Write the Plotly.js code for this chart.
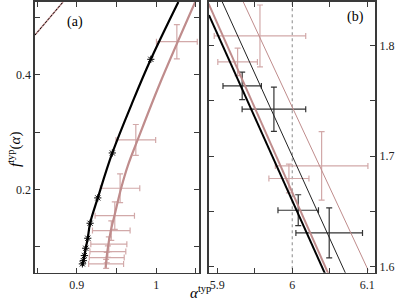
<!DOCTYPE html>
<html><head><meta charset="utf-8">
<script src="https://cdn.plot.ly/plotly-3.0.1.min.js"></script>
<style>html,body{margin:0;padding:0;background:#fff}</style>
</head><body>
<div id="chart" style="width:395px;height:303px"></div>
<script>
// Panel (a): black curve and stars
var curveBlackX = [0.9073, 0.9083, 0.9096, 0.9113, 0.9139, 0.9168, 0.9265, 0.9448, 0.9714, 0.9933, 1.028];
var curveBlackY = [0.0661, 0.0753, 0.0841, 0.0970, 0.1145, 0.1407, 0.1850, 0.2636, 0.3563, 0.4274, 0.5276];
var starsX = [0.9071, 0.9083, 0.9096, 0.9113, 0.9139, 0.9168, 0.9265, 0.9448, 0.9933];
var starsY = [0.0696, 0.0753, 0.0841, 0.0970, 0.1145, 0.1407, 0.1850, 0.2636, 0.4274];
// Panel (a): pink curve and points with error bars
var curvePinkX = [0.9363, 0.9388, 0.9426, 0.9477, 0.9559, 0.9647, 0.9767, 1.0050, 1.0492];
var curvePinkY = [0.0626, 0.0940, 0.1255, 0.1552, 0.2019, 0.2427, 0.2864, 0.3860, 0.5276];
var pinkX = [0.9370, 0.9378, 0.9392, 0.9404, 0.9435, 0.9479, 0.9546, 0.9744, 1.0261];
var pinkY = [0.0696, 0.0806, 0.0911, 0.1040, 0.1278, 0.1540, 0.2019, 0.2864, 0.4582];
var pinkXerr = [0.022, 0.022, 0.0226, 0.0227, 0.0237, 0.0248, 0.0248, 0.0250, 0.0257];
var pinkYerr = [0.008, 0.009, 0.010, 0.013, 0.017, 0.024, 0.025, 0.027, 0.030];
var dashX = [0.8474, 0.8827];
var dashY = [0.4699, 0.5276];
// Panel (b): straight lines
var thickBlackX = [5.889, 6.0436], thickBlackY = [1.8276, 1.5939];
var thickPinkX = [5.8885, 6.048], thickPinkY = [1.8380, 1.5939];
var thinBlackX = [5.9067, 6.0712], thinBlackY = [1.8396, 1.5939];
var thinPinkX = [5.9347, 6.1013], thinPinkY = [1.8396, 1.5968];
// Panel (b): points with error bars
var bBlackX = [5.9333, 5.9756, 6.008, 6.0493];
var bBlackY = [1.7636, 1.7425, 1.6511, 1.6306];
var bBlackXerr = [0.0256, 0.0424, 0.027, 0.0444];
var bBlackYerr = [0.0125, 0.020, 0.014, 0.0226];
var bPinkX = [5.957, 5.9272, 6.0392, 5.9956];
var bPinkY = [1.8088, 1.7853, 1.6912, 1.6798];
var bPinkXerr = [0.061, 0.0264, 0.0617, 0.0267];
var bPinkYerr = [0.028, 0.0124, 0.031, 0.013];

var PINK = '#bf8c8c', PINKERR = '#d2a9a9', FR = '#3a3a3a';
var F = 'Liberation Serif, serif';

var traces = [
  {x: dashX, y: dashY, mode: 'lines', line: {color: PINK, width: 1.5}, xaxis: 'x', yaxis: 'y', showlegend: false},
  {x: dashX, y: dashY, mode: 'lines', line: {color: '#000', width: 1, dash: '2px,2px'}, xaxis: 'x', yaxis: 'y', showlegend: false},
  {x: pinkX, y: pinkY, mode: 'markers', marker: {size: 1, color: 'rgba(0,0,0,0)'},
   error_x: {type: 'data', array: pinkXerr, color: PINKERR, thickness: 1.2, width: 3},
   error_y: {type: 'data', array: pinkYerr, color: PINKERR, thickness: 1.2, width: 3},
   xaxis: 'x', yaxis: 'y', showlegend: false},
  {x: curvePinkX, y: curvePinkY, mode: 'lines', line: {color: PINK, width: 2.2, shape: 'spline', smoothing: 1}, xaxis: 'x', yaxis: 'y', showlegend: false},
  {x: curveBlackX, y: curveBlackY, mode: 'lines', line: {color: '#000', width: 2.2, shape: 'spline'}, xaxis: 'x', yaxis: 'y', showlegend: false},
  {x: starsX, y: starsY, mode: 'markers', marker: {symbol: 'asterisk-open', size: 6, color: '#000', line: {width: 1, color: '#000'}}, xaxis: 'x', yaxis: 'y', showlegend: false},
  // panel b
  {x: [6, 6], y: [1.5, 1.9], mode: 'lines', line: {color: '#888', width: 1, dash: 'dot'}, xaxis: 'x2', yaxis: 'y2', showlegend: false},
  {x: bPinkX, y: bPinkY, mode: 'markers', marker: {size: 1, color: 'rgba(0,0,0,0)'},
   error_x: {type: 'data', array: bPinkXerr, color: PINKERR, thickness: 1.2, width: 3},
   error_y: {type: 'data', array: bPinkYerr, color: PINKERR, thickness: 1.2, width: 3},
   xaxis: 'x2', yaxis: 'y2', showlegend: false},
  {x: bBlackX, y: bBlackY, mode: 'markers', marker: {size: 1, color: 'rgba(0,0,0,0)'},
   error_x: {type: 'data', array: bBlackXerr, color: '#333', thickness: 1.2, width: 3},
   error_y: {type: 'data', array: bBlackYerr, color: '#333', thickness: 1.2, width: 3},
   xaxis: 'x2', yaxis: 'y2', showlegend: false},
  {x: thinPinkX, y: thinPinkY, mode: 'lines', line: {color: PINK, width: 1}, xaxis: 'x2', yaxis: 'y2', showlegend: false},
  {x: thinBlackX, y: thinBlackY, mode: 'lines', line: {color: '#222', width: 1}, xaxis: 'x2', yaxis: 'y2', showlegend: false},
  {x: thickPinkX, y: thickPinkY, mode: 'lines', line: {color: PINK, width: 2}, xaxis: 'x2', yaxis: 'y2', showlegend: false},
  {x: thickBlackX, y: thickBlackY, mode: 'lines', line: {color: '#000', width: 2}, xaxis: 'x2', yaxis: 'y2', showlegend: false}
];

function ax(o) {
  return Object.assign({showgrid: false, zeroline: false, showline: true, linecolor: FR, linewidth: 1.5,
    mirror: 'ticks', ticks: 'inside', ticklen: 5, tickwidth: 1, tickcolor: FR, tickmode: 'linear',
    tickfont: {family: F, size: 12, color: '#222'}, fixedrange: true}, o);
}
function mn(d) { return {dtick: d, ticks: 'inside', ticklen: 5, tickwidth: 1, tickcolor: FR, showgrid: false}; }

var layout = {
  width: 395, height: 303,
  margin: {l: 0, r: 0, t: 0, b: 0, pad: 0},
  font: {family: F},
  paper_bgcolor: '#fff', plot_bgcolor: '#fff',
  showlegend: false,
  xaxis: ax({domain: [0.0886, 0.5038], range: [0.8474, 1.054], tick0: 0.9, dtick: 0.1, minor: mn(0.05), anchor: 'y'}),
  yaxis: ax({domain: [0.1, 0.9934], range: [0.0542, 0.5276], tick0: 0, dtick: 0.2, minor: mn(0.1), anchor: 'x'}),
  xaxis2: ax({domain: [0.529, 0.9506], range: [5.889, 6.111], tick0: 5.9, dtick: 0.1, minor: mn(0.05), anchor: 'y2'}),
  yaxis2: ax({domain: [0.1, 0.9934], range: [1.5946, 1.8395], tick0: 1.6, dtick: 0.1, minor: mn(0.05), side: 'right', anchor: 'x2'}),
  annotations: [
    {xref: 'paper', yref: 'paper', x: 75/395, y: 1 - 22/303, text: '(a)', showarrow: false,
     font: {family: F, size: 14, color: '#000'}, xanchor: 'center', yanchor: 'middle'},
    {xref: 'paper', yref: 'paper', x: 355/395, y: 1 - 17/303, text: '(b)', showarrow: false,
     font: {family: F, size: 14, color: '#000'}, xanchor: 'center', yanchor: 'middle'},
    {xref: 'paper', yref: 'paper', x: 14/395, y: 1 - 150/303, text: '<i>f</i><sup>typ</sup>(<i>α</i>)', showarrow: false,
     textangle: -90, font: {family: F, size: 15, color: '#000'}, xanchor: 'center', yanchor: 'middle'},
    {xref: 'paper', yref: 'paper', x: 188/395, y: 1 - 303/303, text: '<i>α</i><sup>typ</sup>', showarrow: false,
     font: {family: F, size: 15, color: '#000'}, xanchor: 'left', yanchor: 'bottom'}
  ]
};

Plotly.newPlot('chart', traces, layout, {displayModeBar: false, staticPlot: true});
</script>
</body></html>
